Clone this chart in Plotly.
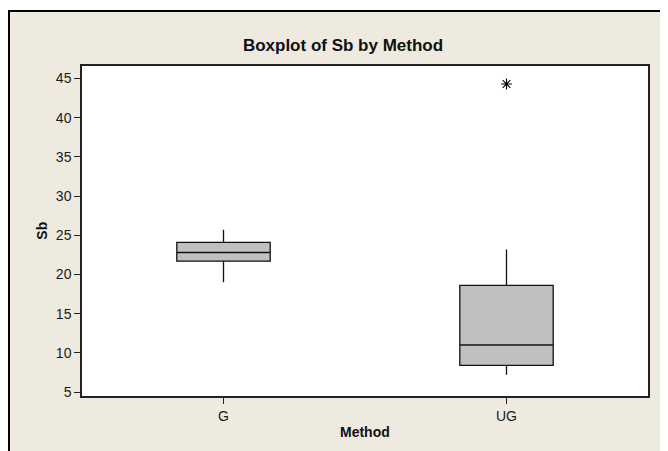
import plotly.graph_objects as go

# Boxplot of Sb by Method (Minitab style), stats
methods = ["G", "UG"]
q1_vals = [21.7, 8.4]
median_vals = [22.8, 11.0]
q3_vals = [24.1, 18.6]
lower_whisker = [19.0, 7.2]
upper_whisker = [25.7, 23.2]

outlier_method = ["UG"]
outlier_values = [44.3]

beige = "#EEEAE0"
font_family = "Liberation Sans, Arial, sans-serif"

# the page body adds an 8px offset, so the figure is a bit smaller than the window
W, H = 660, 443
L, R, T, B = 74, 20, 58, 55
plot_w = W - L - R
plot_h = H - T - B

fig = go.Figure()

fig.add_trace(go.Box(
    x=methods,
    q1=q1_vals,
    median=median_vals,
    q3=q3_vals,
    lowerfence=lower_whisker,
    upperfence=upper_whisker,
    width=0.33,
    whiskerwidth=0,
    fillcolor="#C0C0C0",
    line=dict(color="#111111", width=1.3),
    boxpoints=False,
    showlegend=False,
    hoverinfo="y",
))

fig.add_trace(go.Scatter(
    x=outlier_method,
    y=outlier_values,
    mode="markers",
    marker=dict(symbol="asterisk-open", size=9, color="black",
                line=dict(color="black", width=1.1)),
    showlegend=False,
))

# outer beige panel with black frame at top and left, white plot area on top
fig.add_shape(
    type="rect", xref="paper", yref="paper",
    x0=(1 - L) / plot_w, x1=1.2, y0=-0.3, y1=(H - B - 3) / plot_h,
    fillcolor=beige, line=dict(color="black", width=2), layer="below",
)
fig.add_shape(
    type="rect", xref="paper", yref="paper",
    x0=0, x1=1, y0=0, y1=1,
    fillcolor="white", line=dict(width=0), layer="below",
)

fig.add_annotation(
    text="<b>Sb</b>", xref="paper", yref="paper",
    x=(41.7 - 8 - L) / plot_w, y=0.5, textangle=-90,
    showarrow=False, xanchor="center", yanchor="middle",
    font=dict(size=14, color="#111111"),
)
fig.add_annotation(
    text="<b>Method</b>", xref="paper", yref="paper",
    x=0.5, y=(396 - 432) / plot_h,
    showarrow=False, xanchor="center", yanchor="middle",
    font=dict(size=14, color="#111111"),
)

fig.update_layout(
    width=W,
    height=H,
    margin=dict(l=L, r=R, t=T, b=B),
    paper_bgcolor="white",
    plot_bgcolor="white",
    font=dict(family=font_family, size=14, color="#222222"),
    title=dict(
        text="<b>Boxplot of Sb by Method</b>",
        x=(343 - 8) / W, xref="container", xanchor="center",
        y=1 - (45 - 8) / H, yref="container", yanchor="middle",
        font=dict(family=font_family, size=17, color="#111111"),
    ),
    xaxis=dict(
        type="category",
        range=[-0.5, 1.5],
        showgrid=False,
        zeroline=False,
        showline=True, mirror=True, linecolor="#222222", linewidth=1.5,
        ticks="outside", ticklen=6, tickcolor="#222222",
        tickfont=dict(size=14, color="#1a1a1a"),
    ),
    yaxis=dict(
        range=[4.49, 46.6],
        tickvals=[5, 10, 15, 20, 25, 30, 35, 40, 45],
        showgrid=False,
        zeroline=False,
        showline=True, mirror=True, linecolor="#222222", linewidth=1.5,
        ticks="outside", ticklen=6, tickcolor="#222222",
        tickfont=dict(size=14, color="#1a1a1a"),
    ),
)

fig.write_html("out.html")
